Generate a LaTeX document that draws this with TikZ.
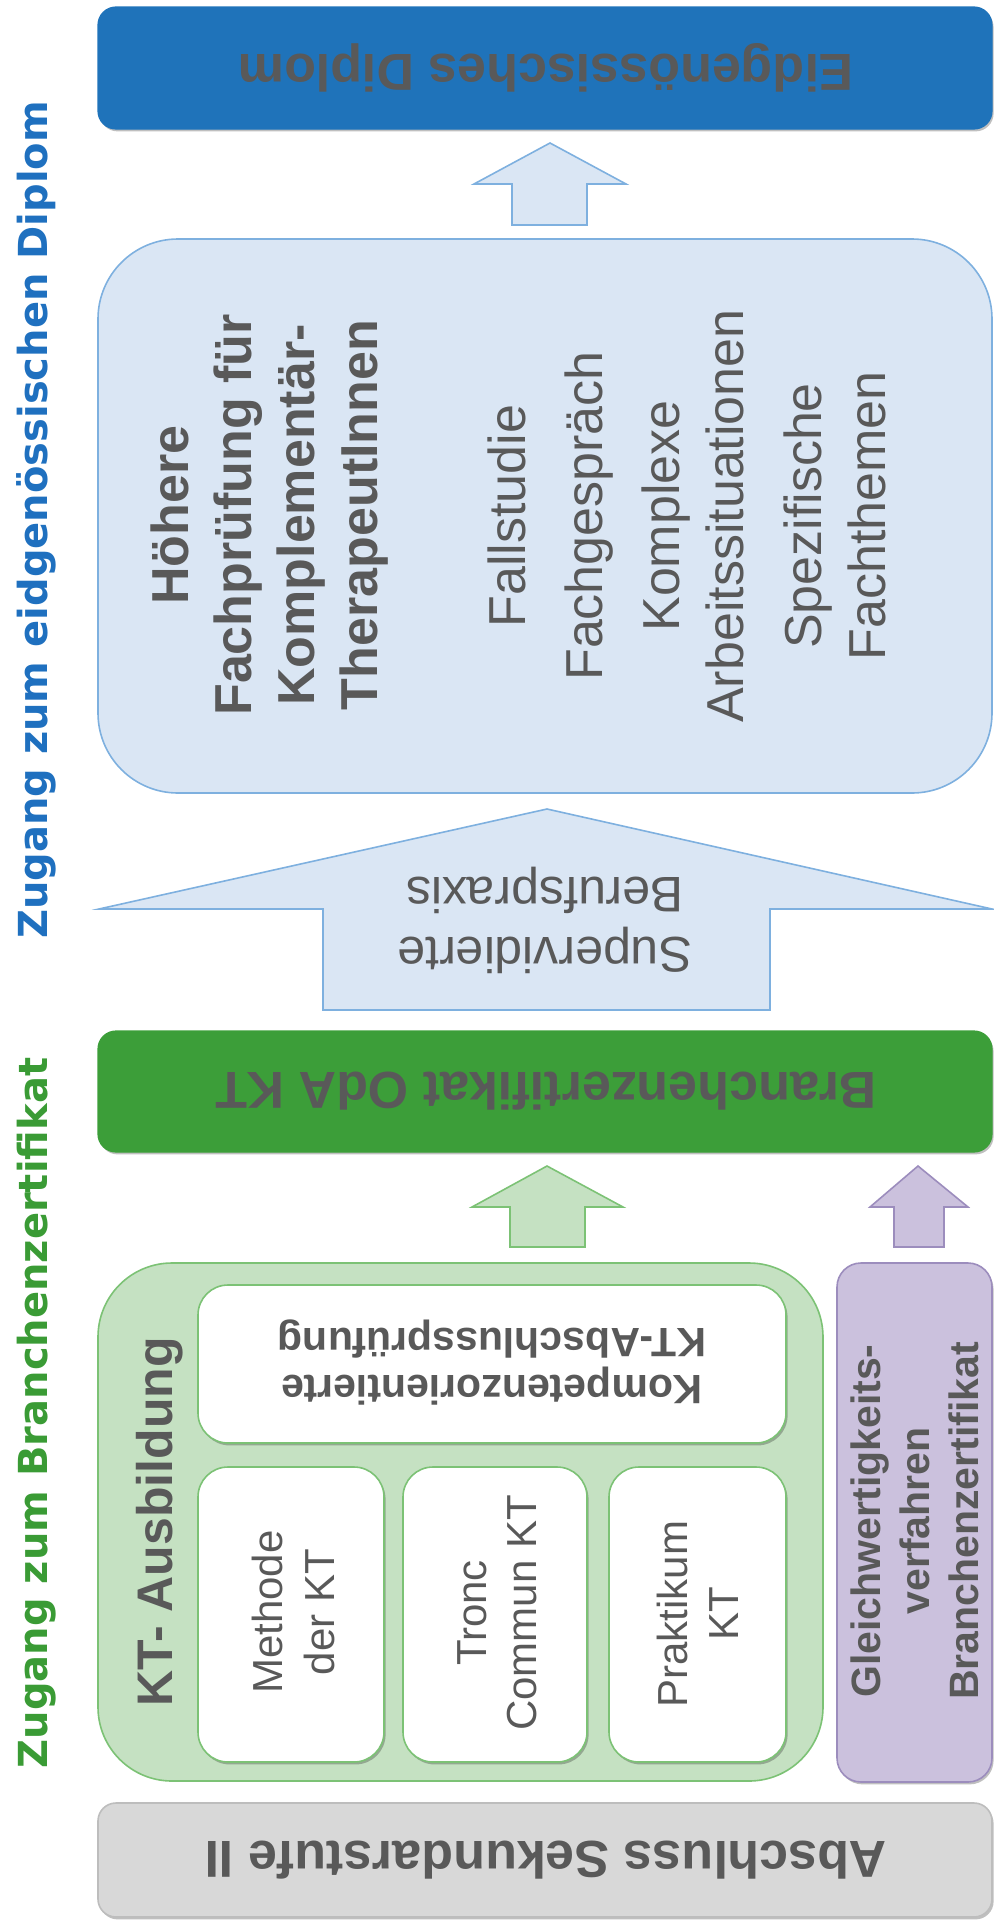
\documentclass[tikz,border=0pt]{standalone}
\usepackage{fontspec}
\setmainfont{Liberation Sans}
\newfontfamily\lblfont{DejaVu Sans}
\usetikzlibrary{shadows}
\definecolor{txtgray}{HTML}{595959}
\definecolor{dblue}{HTML}{1F73BA}
\definecolor{lblue}{HTML}{DAE6F4}
\definecolor{lbluedraw}{HTML}{7EB0DF}
\definecolor{dgreen}{HTML}{3C9E39}
\definecolor{lgreen}{HTML}{C5E1C2}
\definecolor{lgreendraw}{HTML}{7CC275}
\definecolor{lpurple}{HTML}{CBC1DD}
\definecolor{purpledraw}{HTML}{9C8DBD}
\definecolor{lgray}{HTML}{D8D8D8}
\definecolor{graydraw}{HTML}{BDBDBD}
\definecolor{lblblue}{HTML}{1F70BF}
\definecolor{lblgreen}{HTML}{3A9B35}
\begin{document}
\begin{tikzpicture}[x=0.5pt,y=-0.5pt,
  shade/.style={drop shadow={shadow xshift=0.8pt,shadow yshift=-1.2pt,opacity=0.25,fill=black}},
  boxblue/.style={fill=dblue,draw=dblue,line width=0.6pt,shade},
  boxlight/.style={fill=lblue,draw=lbluedraw,line width=0.8pt},
  boxgreen/.style={fill=dgreen,draw=dgreen,line width=0.6pt,shade},
  boxlgreen/.style={fill=lgreen,draw=lgreendraw,line width=0.8pt},
  boxwhite/.style={fill=white,draw=lgreendraw,line width=0.8pt,shade},
  boxpurple/.style={fill=lpurple,draw=purpledraw,line width=0.8pt,shade},
  boxgray/.style={fill=lgray,draw=graydraw,line width=0.8pt,shade},
  arrblue/.style={fill=lblue,draw=lbluedraw,line width=0.8pt},
  arrgreen/.style={fill=lgreen,draw=lgreendraw,line width=0.8pt},
  arrpurple/.style={fill=lpurple,draw=purpledraw,line width=0.8pt},
  txt/.style={text=txtgray,inner sep=0pt},
  titletxt/.style={txt,rotate=180,font=\fontsize{26}{31}\selectfont\bfseries},
  vbig/.style={txt,rotate=90,anchor=base,font=\fontsize{26}{31}\selectfont},
  vbigbold/.style={vbig,font=\fontsize{26}{31}\selectfont\bfseries},
  vsmall/.style={txt,rotate=90,anchor=base,font=\fontsize{21}{25}\selectfont},
  vsmallbold/.style={txt,rotate=90,anchor=base,font=\fontsize{20.5}{24.5}\selectfont\bfseries},
  sidelbl/.style={inner sep=0pt,rotate=90,anchor=base,font=\lblfont\bfseries\fontsize{20}{24}\selectfont}
]
\useasboundingbox (0,0) rectangle (994,1928);

% ---------- boxes ----------
\draw[boxblue,rounded corners=9pt] (98,7) rectangle (992,129);
\draw[boxlight,rounded corners=40pt] (98,239) rectangle (992,793);
\draw[boxgreen,rounded corners=9pt] (98,1031) rectangle (992,1152);
\draw[boxlgreen,rounded corners=37pt] (98,1263) rectangle (823,1781);
\draw[boxwhite,rounded corners=15pt] (198,1285) rectangle (786,1443);
\draw[boxwhite,rounded corners=15pt] (198,1467) rectangle (384,1762);
\draw[boxwhite,rounded corners=15pt] (403,1467) rectangle (587,1762);
\draw[boxwhite,rounded corners=15pt] (609,1467) rectangle (786,1762);
\draw[boxpurple,rounded corners=12pt] (837,1263) rectangle (992,1782);
\draw[boxgray,rounded corners=9pt] (98,1803) rectangle (992,1917);

% ---------- block arrows ----------
\draw[arrblue] (550,143) -- (626,184) -- (587,184) -- (587,225) -- (512,225) -- (512,184) -- (474,184) -- cycle;
\draw[arrblue] (547,809) -- (992,909) -- (770,909) -- (770,1010) -- (323,1010) -- (323,909) -- (99,909) -- cycle;
\draw[arrgreen] (547,1166) -- (623,1207) -- (585,1207) -- (585,1247) -- (510,1247) -- (510,1207) -- (472,1207) -- cycle;
\draw[arrpurple] (918,1166) -- (968,1207) -- (944,1207) -- (944,1247) -- (894,1247) -- (894,1207) -- (870,1207) -- cycle;

% ---------- upside-down titles ----------
\node[titletxt] (diplom) at (546,68) {Eidgenössisches Diplom};
\node[titletxt] (branchen) at (546,1091) {Branchenzertifikat OdA KT};
\node[titletxt] (sek) at (546,1860) {Abschluss Sekundarstufe II};
\node[txt,rotate=180,align=center,font=\fontsize{25}{30}\selectfont] (praxis) at (545,920) {Supervidierte\\Berufspraxis};
\node[txt,rotate=180,align=center,font=\fontsize{20.5}{23.5}\selectfont\bfseries] (kompetenz) at (492,1362) {Kompetenzorientierte\\KT-Abschlussprüfung};

% ---------- Höhere Fachprüfung ----------
\node[vbigbold] (hf1) at (188,515) {Höhere};
\node[vbigbold] (hf2) at (251,515) {Fachprüfung für};
\node[vbigbold] (hf3) at (314,515) {Komplementär-};
\node[vbigbold] (hf4) at (377,515) {TherapeutInnen};
\node[vbig] (fall) at (525,516) {Fallstudie};
\node[vbig] (gespr) at (602,516) {Fachgespräch};
\node[vbig] (kompl1) at (679,516) {Komplexe};
\node[vbig] (kompl2) at (743,516) {Arbeitssituationen};
\node[vbig] (spez1) at (821,516) {Spezifische};
\node[vbig] (spez2) at (885,516) {Fachthemen};

% ---------- KT-Ausbildung ----------
\node[txt,rotate=90,anchor=base,font=\fontsize{25}{30}\selectfont\bfseries] (ausb) at (172,1522) {KT- Ausbildung};
\node[vsmall] (meth1) at (282,1612) {Methode};
\node[vsmall] (meth2) at (334,1612) {der KT};
\node[vsmall] (tronc1) at (486,1613) {Tronc};
\node[vsmall] (tronc2) at (536,1613) {Commun KT};
\node[vsmall] (prak1) at (687,1614) {Praktikum};
\node[vsmall] (prak2) at (738,1614) {KT};

% ---------- Gleichwertigkeit ----------
\node[vsmallbold] (gl1) at (880,1521) {Gleichwertigkeits-};
\node[vsmallbold] (gl2) at (929,1521) {verfahren};
\node[vsmallbold] (gl3) at (978,1521) {Branchenzertifikat};

% ---------- side labels ----------
\node[sidelbl,text=lblblue] (zdiplom) at (47,520) {Zugang zum eidgenössischen Diplom};
\node[sidelbl,text=lblgreen] (zbranche) at (47,1413) {Zugang zum Branchenzertifikat};
\end{tikzpicture}
\end{document}
